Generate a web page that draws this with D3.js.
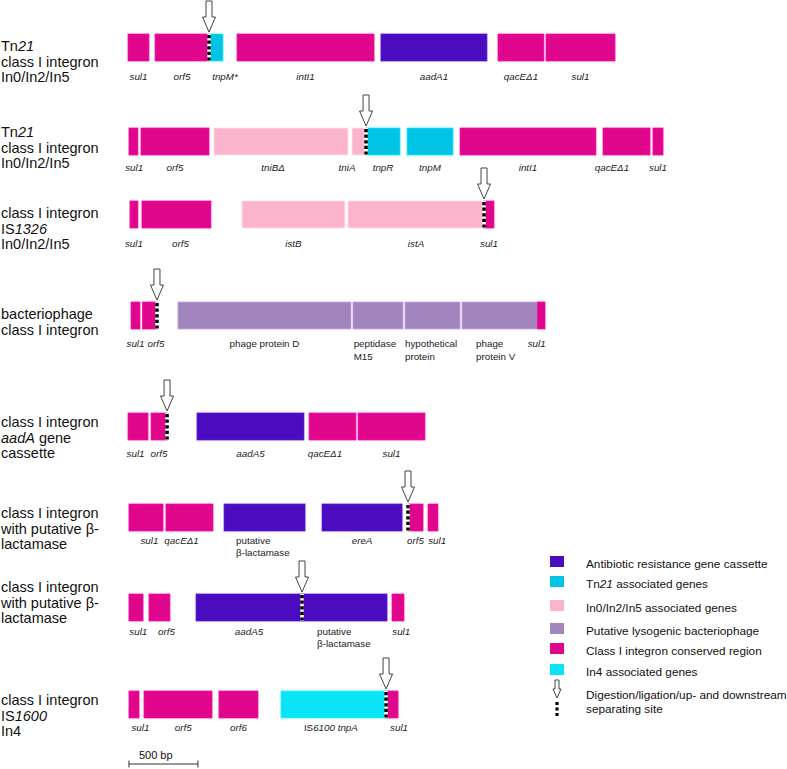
<!DOCTYPE html>
<html><head><meta charset="utf-8">
<script src="https://cdn.jsdelivr.net/npm/d3@7"></script>
<style>body{margin:0;background:#fff}svg{display:block;font-family:"Liberation Sans",Arial,sans-serif}</style>
</head><body><svg id="c" width="787" height="769"></svg>
<script>
// ---------- DATA ----------
const categoryKeys = ["A", "T", "P", "B", "C", "F"];
const categoryNames = [
  "Antibiotic resistance gene cassette",
  "Tn<i>21</i> associated genes",
  "In0/In2/In5 associated genes",
  "Putative lysogenic bacteriophage",
  "Class I integron conserved region",
  "In4 associated genes"
];
const siteLegend = ["Digestion/ligation/up- and downstream", "separating site"];

const rowLabels = [
  "Tn<i>21</i>|class I integron|In0/In2/In5",
  "Tn<i>21</i>|class I integron|In0/In2/In5",
  "class I integron|IS<i>1326</i>|In0/In2/In5",
  "bacteriophage|class I integron",
  "class I integron|<i>aadA</i> gene|cassette",
  "class I integron|with putative β-|lactamase",
  "class I integron|with putative β-|lactamase",
  "class I integron|IS<i>1600</i>|In4"
];

// genes: [label (italic default, <r> roman, | new line), start bp, end bp, category, label position bp (optional), anchor (optional)]
const row1 = [
  ["sul1", 0, 152, "C"], ["orf5", 196, 587, "C"], ["tnpM*", 587, 688, "T", 703],
  ["intI1", 790, 1783, "C"], ["aadA1", 1833, 2601, "A"], ["qacEΔ1", 2681, 3014, "C"], ["sul1", 3029, 3529, "C"]
];
const row2 = [
  ["sul1", 7, 72, "C", 45], ["orf5", 94, 587, "C"], ["tniBΔ", 623, 1594, "P", 1051], ["tniA", 1623, 1725, "P", 1587],
  ["tnpR", 1725, 1971, "T"], ["tnpM", 2022, 2355, "T"], ["intI1", 2406, 3391, "C"],
  ["qacEΔ1", 3442, 3783, "C", 3507], ["sul1", 3804, 3877, "C"]
];
const row3 = [
  ["sul1", 14, 72, "C"], ["orf5", 101, 601, "C", 380], ["istB", 826, 1572, "P"], ["istA", 1594, 2580, "P"], ["sul1", 2580, 2652, "C"]
];
const row4 = [
  ["sul1", 22, 87, "C"], ["orf5", 105, 210, "C", 203], ["<r>phage protein D</r>", 362, 1616, "B"],
  ["<r>peptidase</r>|<r>M15</r>", 1630, 1993, "B", 1635, "start"],
  ["<r>hypothetical</r>|<r>protein</r>", 2007, 2406, "B", 2007, "start"],
  ["<r>phage</r>|<r>protein V</r>", 2420, 2967, "B", 2522, "start"],
  ["sul1", 2967, 3022, "C", 2961]
];
const row5 = [
  ["sul1", 0, 145, "C", 55], ["orf5", 167, 283, "C"], ["aadA5", 500, 1275, "A"], ["qacEΔ1", 1312, 1652, "C", 1427], ["sul1", 1667, 2152, "C"]
];
const row6 = [
  ["sul1", 7, 254, "C", 155], ["qacEΔ1", 275, 616, "C", 388], ["<r>putative</r>|<r>β-lactamase</r>", 696, 1283, "A", 783, "start"],
  ["ereA", 1406, 1986, "A"], ["orf5", 2029, 2138, "C"], ["sul1", 2174, 2246, "C", 2240]
];
const row7 = [
  ["sul1", 7, 109, "C", 75], ["orf5", 152, 304, "C", 279], ["aadA5", 493, 1261, "A"],
  ["<r>putative</r>|<r>β-lactamase</r>", 1261, 1877, "A", 1370, "start"], ["sul1", 1913, 2000, "C", 1980]
];
const row8 = [
  ["sul1", 7, 80, "C", 90], ["orf5", 116, 609, "C", 400], ["orf6", 659, 942, "C"],
  ["<r>IS</r>6100 tnpA", 1109, 1870, "F", 1470], ["sul1", 1870, 1957, "C", 1964]
];
const cutSites = [587, 1725, 2580, 210, 283, 2029, 1261, 1870];
const scaleBarBp = 500;
const scaleBarText = "500 bp";

// ---------- LAYOUT / STYLE ----------
const categoryColors = ["#4a0cbe", "#00c3e6", "#fbb4cb", "#a285bd", "#e0068c", "#0ae4f6"];
const rowTop = [34, 128, 201, 302, 413, 504, 594, 691];
const barH = 27;
const geneLabelGap = [19, 15.5, 18.5, 18, 16.5, 12.5, 13.5, 12.5];
const rowLabelBase = [51, 137, 218, 319, 427, 518, 592, 705];

const svg = d3.select("#c");
const x = d3.scaleLinear().domain([0, 5000]).range([128, 818]);
const color = d3.scaleOrdinal().domain(categoryKeys).range(categoryColors);

function rich(t, str, defItalic) {
  const parts = str.split(/(<r>.*?<\/r>|<i>.*?<\/i>)/).filter(s => s.length);
  parts.forEach(p => {
    let it = defItalic, s = p;
    if (p.startsWith("<r>")) { it = false; s = p.slice(3, -4); }
    else if (p.startsWith("<i>")) { it = true; s = p.slice(3, -4); }
    t.append("tspan").attr("font-style", it ? "italic" : "normal").text(s);
  });
}

function arrowPath(cx, tip, sw, hw, sh, hh) {
  return `M${cx - sw},${tip - sh - hh}L${cx + sw},${tip - sh - hh}L${cx + sw},${tip - hh}L${cx + hw},${tip - hh}L${cx},${tip}L${cx - hw},${tip - hh}L${cx - sw},${tip - hh}Z`;
}

function dotted(g, cx, y1, y2) {
  g.append("line").attr("x1", cx).attr("x2", cx).attr("y1", y1).attr("y2", y2)
    .attr("stroke", "#fff").attr("stroke-width", 3.5);
  g.append("line").attr("x1", cx).attr("x2", cx).attr("y1", y1 + 1).attr("y2", y2)
    .attr("stroke", "#000").attr("stroke-width", 3.5).attr("stroke-dasharray", "3.2,2.4");
}

const rows = [row1, row2, row3, row4, row5, row6, row7, row8];
rows.forEach((genes, i) => {
  const g = svg.append("g");
  const y0 = rowTop[i];
  g.selectAll("rect").data(genes).join("rect")
    .attr("x", d => x(d[1])).attr("y", y0)
    .attr("width", d => x(d[2]) - x(d[1])).attr("height", barH)
    .attr("fill", d => color(d[3]))
    .attr("stroke", d => d3.color(color(d[3])).brighter(0.6)).attr("stroke-width", 0.8);

  genes.forEach(d => {
    const lx = x(d[4] != null ? d[4] : (d[1] + d[2]) / 2);
    d[0].split("|").forEach((ln, k) => {
      const t = g.append("text").attr("x", lx)
        .attr("y", y0 + barH + geneLabelGap[i] + k * 12.5)
        .attr("text-anchor", d[5] || "middle")
        .attr("font-size", 9.8).attr("fill", "#222");
      rich(t, ln, true);
    });
  });

  const cx = x(cutSites[i]);
  dotted(g, cx, y0, y0 + barH);
  g.append("path").attr("d", arrowPath(cx, y0 - 2, 3, 6.5, 16, 15))
    .attr("fill", "#fff").attr("stroke", "#444").attr("stroke-width", 1);

  rowLabels[i].split("|").forEach((ln, k) => {
    const t = g.append("text").attr("x", 1).attr("y", rowLabelBase[i] + k * 15.7)
      .attr("font-size", 14.5).attr("fill", "#111");
    rich(t, ln, false);
  });
});

// ---------- LEGEND ----------
const legTop = [556, 576, 600, 623, 643, 664];
const lg = svg.append("g");
categoryKeys.forEach((k, i) => {
  lg.append("rect").attr("x", 550).attr("y", legTop[i]).attr("width", 14).attr("height", 11)
    .attr("fill", color(k));
  const t = lg.append("text").attr("x", 586).attr("y", legTop[i] + 12).attr("font-size", 11.8).attr("fill", "#111");
  rich(t, categoryNames[i], false);
});
lg.append("path").attr("d", arrowPath(557, 698, 2, 4, 9, 9)).attr("fill", "#fff").attr("stroke", "#444").attr("stroke-width", 1);
lg.append("line").attr("x1", 557).attr("x2", 557).attr("y1", 702).attr("y2", 718)
  .attr("stroke", "#000").attr("stroke-width", 3.2).attr("stroke-dasharray", "3,2.5");
siteLegend.forEach((s, k) => {
  lg.append("text").attr("x", 586).attr("y", 699 + k * 13.5).attr("font-size", 11.8).attr("fill", "#111").text(s);
});

// ---------- SCALE BAR ----------
const sb = svg.append("g");
const sx0 = x(7), sx1 = x(7 + scaleBarBp);
sb.append("line").attr("x1", sx0).attr("x2", sx1).attr("y1", 764).attr("y2", 764).attr("stroke", "#333").attr("stroke-width", 1);
[sx0, sx1].forEach(v => sb.append("line").attr("x1", v).attr("x2", v).attr("y1", 760.5).attr("y2", 767.5).attr("stroke", "#333").attr("stroke-width", 1));
sb.append("text").attr("x", sx0 + 10).attr("y", 759).attr("font-size", 11).attr("fill", "#111").text(scaleBarText);
</script></body></html>
